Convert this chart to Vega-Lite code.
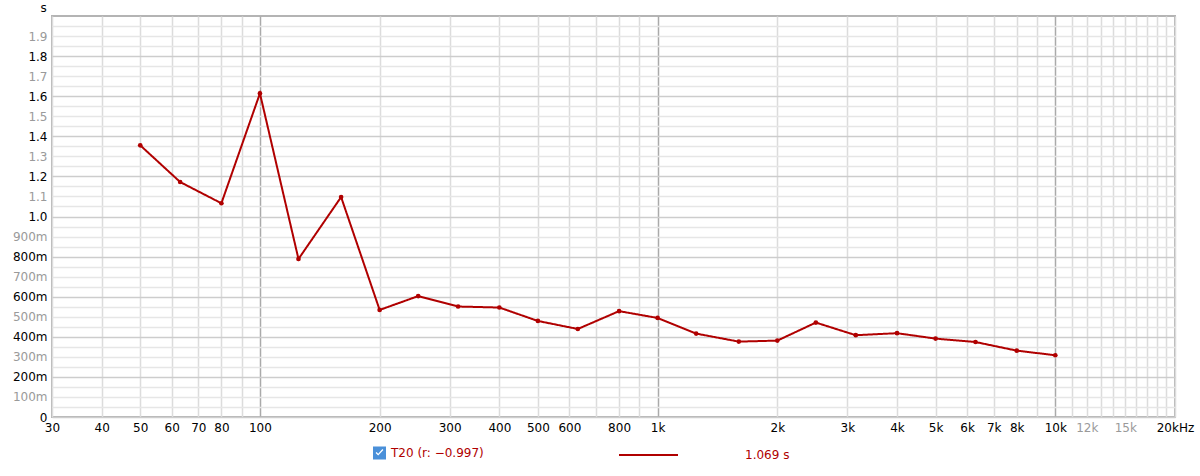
{
  "$schema": "https://vega.github.io/schema/vega-lite/v6.json",
  "width": 1123,
  "height": 401,
  "autosize": {"type": "none"},
  "padding": {"left": 52, "top": 16, "right": 25, "bottom": 59},
  "background": "white",
  "config": {
    "font": "DejaVu Sans",
    "view": {"stroke": "#b4b4b4", "strokeWidth": 2}
  },
  "data": {
    "values": [
      {"freq": 50, "rt": 1.355, "series": "T20 (r: −0.997)", "result": "1.069 s"},
      {"freq": 63, "rt": 1.172, "series": "T20 (r: −0.997)", "result": "1.069 s"},
      {"freq": 80, "rt": 1.066, "series": "T20 (r: −0.997)", "result": "1.069 s"},
      {"freq": 100, "rt": 1.614, "series": "T20 (r: −0.997)", "result": "1.069 s"},
      {"freq": 125, "rt": 0.788, "series": "T20 (r: −0.997)", "result": "1.069 s"},
      {"freq": 160, "rt": 1.097, "series": "T20 (r: −0.997)", "result": "1.069 s"},
      {"freq": 200, "rt": 0.534, "series": "T20 (r: −0.997)", "result": "1.069 s"},
      {"freq": 250, "rt": 0.603, "series": "T20 (r: −0.997)", "result": "1.069 s"},
      {"freq": 315, "rt": 0.551, "series": "T20 (r: −0.997)", "result": "1.069 s"},
      {"freq": 400, "rt": 0.546, "series": "T20 (r: −0.997)", "result": "1.069 s"},
      {"freq": 500, "rt": 0.479, "series": "T20 (r: −0.997)", "result": "1.069 s"},
      {"freq": 630, "rt": 0.439, "series": "T20 (r: −0.997)", "result": "1.069 s"},
      {"freq": 800, "rt": 0.528, "series": "T20 (r: −0.997)", "result": "1.069 s"},
      {"freq": 1000, "rt": 0.494, "series": "T20 (r: −0.997)", "result": "1.069 s"},
      {"freq": 1250, "rt": 0.416, "series": "T20 (r: −0.997)", "result": "1.069 s"},
      {"freq": 1600, "rt": 0.376, "series": "T20 (r: −0.997)", "result": "1.069 s"},
      {"freq": 2000, "rt": 0.381, "series": "T20 (r: −0.997)", "result": "1.069 s"},
      {"freq": 2500, "rt": 0.471, "series": "T20 (r: −0.997)", "result": "1.069 s"},
      {"freq": 3150, "rt": 0.408, "series": "T20 (r: −0.997)", "result": "1.069 s"},
      {"freq": 4000, "rt": 0.418, "series": "T20 (r: −0.997)", "result": "1.069 s"},
      {"freq": 5000, "rt": 0.391, "series": "T20 (r: −0.997)", "result": "1.069 s"},
      {"freq": 6300, "rt": 0.374, "series": "T20 (r: −0.997)", "result": "1.069 s"},
      {"freq": 8000, "rt": 0.331, "series": "T20 (r: −0.997)", "result": "1.069 s"},
      {"freq": 10000, "rt": 0.308, "series": "T20 (r: −0.997)", "result": "1.069 s"}
    ]
  },
  "encoding": {
    "x": {
      "field": "freq",
      "type": "quantitative",
      "scale": {"type": "log", "domain": [30, 20000], "nice": false},
      "axis": {
        "title": null,
        "values": [30, 40, 50, 60, 70, 80, 90, 100, 200, 300, 400, 500, 600, 700, 800, 900, 1000, 2000, 3000, 4000, 5000, 6000, 7000, 8000, 9000, 10000, 11000, 12000, 13000, 14000, 15000, 16000, 17000, 18000, 19000, 20000],
        "labelExpr": "indexof([90, 700, 900, 9000, 11000, 13000, 14000, 16000, 17000, 18000, 19000], datum.value) >= 0 ? '' : (datum.value == 20000 ? '20kHz' : (datum.value >= 1000 ? (datum.value / 1000) + 'k' : '' + datum.value))",
        "labelColor": {"condition": {"test": "datum.value == 12000 || datum.value == 15000", "value": "#9a9a9a"}, "value": "#000000"},
        "gridColor": {"condition": {"test": "datum.value == 100 || datum.value == 1000 || datum.value == 10000", "value": "#aaaaaa"}, "value": "#dcdcdc"},
        "gridWidth": 1.5,
        "gridOpacity": 1,
        "domain": false,
        "ticks": false,
        "labelPadding": 5,
        "labelFontSize": 12,
        "labelOverlap": false,
        "labelFlush": false,
        "labelBound": false
      }
    },
    "y": {
      "field": "rt",
      "type": "quantitative",
      "scale": {"domain": [0, 2], "nice": false},
      "axis": {
        "title": "s",
        "titleAngle": 0,
        "titleX": -9,
        "titleY": -9,
        "titleAlign": "center",
        "titleBaseline": "middle",
        "titleFontSize": 12,
        "titleFontWeight": "normal",
        "titleColor": "#000000",
        "values": [0, 0.05, 0.1, 0.15, 0.2, 0.25, 0.3, 0.35, 0.4, 0.45, 0.5, 0.55, 0.6, 0.65, 0.7, 0.75, 0.8, 0.85, 0.9, 0.95, 1, 1.05, 1.1, 1.15, 1.2, 1.25, 1.3, 1.35, 1.4, 1.45, 1.5, 1.55, 1.6, 1.65, 1.7, 1.75, 1.8, 1.85, 1.9, 1.95],
        "labelExpr": "round(datum.value * 20) % 2 != 0 ? '' : (datum.value == 0 ? '0' : (datum.value >= 1 ? format(datum.value, '.1f') : format(datum.value * 1000, 'd') + 'm'))",
        "labelColor": {"condition": {"test": "round(datum.value * 10) % 2 == 0", "value": "#000000"}, "value": "#9a9a9a"},
        "gridColor": {"condition": {"test": "round(datum.value * 20) % 4 == 0", "value": "#cdcdcd"}, "value": "#e6e6e6"},
        "gridWidth": 1.5,
        "gridOpacity": 1,
        "domain": false,
        "ticks": false,
        "labelPadding": 5,
        "labelFontSize": 12,
        "labelOverlap": false,
        "labelFlush": false,
        "labelBound": false
      }
    }
  },
  "layer": [
    {
      "mark": {"type": "line", "strokeWidth": 2},
      "encoding": {
        "color": {
          "field": "series",
          "type": "nominal",
          "scale": {"range": ["#b00000"]},
          "legend": {
            "title": null,
            "orient": "none",
            "legendX": 321,
            "legendY": 430.5,
            "padding": 0,
            "symbolType": "M-1,-1H1V1H-1Z M-0.6,0 L-0.2,0.4 L0.6,-0.45 L0.45,-0.6 L-0.2,0.1 L-0.45,-0.15 Z",
            "symbolSize": 169,
            "labelColor": "#b00000",
            "labelFontSize": 12,
            "labelOffset": 5,
            "encode": {
              "symbols": {
                "update": {
                  "fill": {"value": "#4a90d9"},
                  "stroke": {"value": "#4a90d9"},
                  "strokeWidth": {"value": 0},
                  "opacity": {"value": 1}
                }
              }
            }
          }
        },
        "strokeDash": {
          "field": "result",
          "type": "nominal",
          "scale": {"range": [[1, 0]]},
          "legend": {
            "title": null,
            "orient": "none",
            "legendX": 566,
            "legendY": 408.5,
            "padding": 0,
            "symbolType": "stroke",
            "symbolSize": 3481,
            "labelColor": "#b00000",
            "labelFontSize": 12,
            "labelOffset": 66,
            "encode": {
              "symbols": {
                "update": {
                  "stroke": {"value": "#b00000"},
                  "strokeWidth": {"value": 2},
                  "strokeDash": {"value": [1, 0]},
                  "opacity": {"value": 1}
                }
              }
            }
          }
        }
      }
    },
    {
      "mark": {"type": "point", "filled": true, "size": 22, "color": "#b00000", "opacity": 1}
    }
  ]
}
